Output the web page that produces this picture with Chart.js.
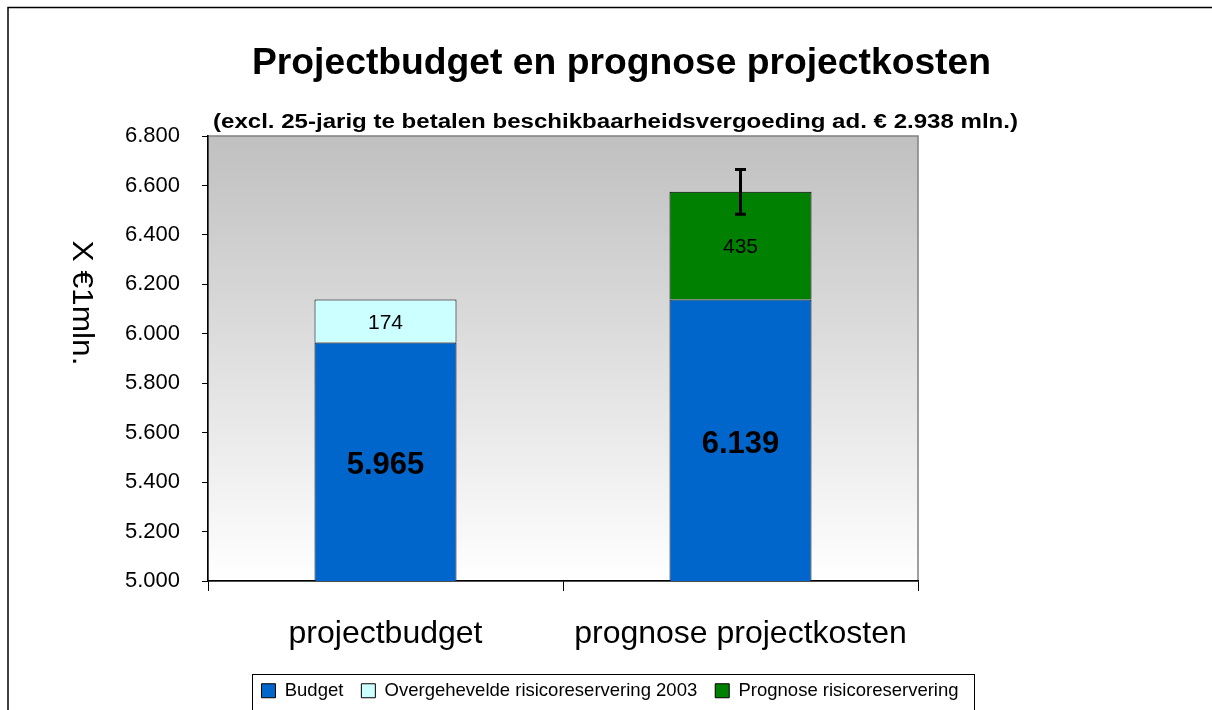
<!DOCTYPE html>
<html><head><meta charset="utf-8">
<script src="https://cdn.jsdelivr.net/npm/chart.js@4"></script>
<style>html,body{margin:0;padding:0;background:#fff;}#wrap{width:1212px;height:710px;}</style>
</head><body><div id="wrap"><canvas id="c" width="1212" height="710"></canvas></div>
<script>
const categories = ['projectbudget', 'prognose projectkosten'];
const budget = [5965, 6139];
const overgeheveld = [174, null];
const prognose = [null, 435];
const errorMargin = [null, 91];
const yMin = 5000, yMax = 6800, yStep = 200;
const titleText = 'Projectbudget en prognose projectkosten';
const subtitleText = '(excl. 25-jarig te betalen beschikbaarheidsvergoeding ad. € 2.938 mln.)';
const yTitle = 'X €1mln.';

const FONT = "'Liberation Sans', Arial, sans-serif";
const fmt = v => (v / 1000).toFixed(3);

function fitText(ctx, text, cx, cy, width) {
  const w = ctx.measureText(text).width;
  ctx.save();
  ctx.translate(cx, cy);
  ctx.scale(width / w, 1);
  ctx.fillText(text, 0, 0);
  ctx.restore();
}

const decor = {
  id: 'decor',
  beforeDraw(chart) {
    const ctx = chart.ctx, a = chart.chartArea;
    ctx.save();
    ctx.fillStyle = '#fff';
    ctx.fillRect(0, 0, chart.width, chart.height);
    // outer frame
    ctx.strokeStyle = '#000'; ctx.lineWidth = 1.5;
    ctx.strokeRect(8, 7.5, chart.width + 20, chart.height + 20);
    // plot gradient
    const g = ctx.createLinearGradient(0, a.top, 0, a.bottom);
    g.addColorStop(0, '#c0c0c0'); g.addColorStop(1, '#ffffff');
    ctx.fillStyle = g;
    ctx.fillRect(a.left, a.top, a.right - a.left, a.bottom - a.top);
    ctx.strokeStyle = '#808080'; ctx.lineWidth = 1.5;
    ctx.strokeRect(a.left, a.top, a.right - a.left, a.bottom - a.top);
    // titles
    ctx.fillStyle = '#000'; ctx.textAlign = 'center'; ctx.textBaseline = 'middle';
    ctx.font = 'bold 36px ' + FONT;
    fitText(ctx, titleText, 621.5, 64, 739);
    ctx.font = 'bold 20px ' + FONT;
    fitText(ctx, subtitleText, 615.5, 122, 805);
    // y title rotated clockwise
    ctx.translate(81, 303);
    ctx.rotate(Math.PI / 2);
    ctx.font = '30px ' + FONT;
    fitText(ctx, yTitle, 0, 0, 125);
    ctx.restore();
  },
  afterDatasetsDraw(chart) {
    const ctx = chart.ctx, y = chart.scales.y;
    ctx.save();
    ctx.fillStyle = '#000'; ctx.textAlign = 'center'; ctx.textBaseline = 'middle';
    // value labels
    chart.data.datasets.forEach((ds, di) => {
      const meta = chart.getDatasetMeta(di);
      meta.data.forEach((bar, i) => {
        const v = ds.data[i];
        if (v == null) return;
        const top = Math.max(bar.y, chart.chartArea.top);
        const bottom = Math.min(bar.base, chart.chartArea.bottom);
        const cy = (top + bottom) / 2;
        if (di === 0) { ctx.font = 'bold 31px ' + FONT; ctx.fillText(fmt(v), bar.x, cy + 4); }
        else { ctx.font = '21px ' + FONT; ctx.fillText(String(v), bar.x, cy + 2); }
      });
    });
    // error bars
    errorMargin.forEach((e, i) => {
      if (e == null) return;
      const total = (budget[i] || 0) + (overgeheveld[i] || 0) + (prognose[i] || 0);
      const x = chart.getDatasetMeta(0).data[i].x;
      const yt = y.getPixelForValue(total + e), yb = y.getPixelForValue(total - e);
      ctx.strokeStyle = '#000'; ctx.lineWidth = 3;
      ctx.beginPath();
      ctx.moveTo(x, yt); ctx.lineTo(x, yb);
      ctx.moveTo(x - 5.5, yt); ctx.lineTo(x + 5.5, yt);
      ctx.moveTo(x - 5.5, yb); ctx.lineTo(x + 5.5, yb);
      ctx.stroke();
    });
    ctx.restore();
  },
  afterDraw(chart) {
    const ctx = chart.ctx, lg = chart.legend;
    if (!lg || !lg.legendHitBoxes || !lg.legendHitBoxes.length) return;
    const hb = lg.legendHitBoxes;
    const l = hb[0].left - 9, r = hb[hb.length - 1].left + hb[hb.length - 1].width + 16;
    ctx.save();
    ctx.strokeStyle = '#000'; ctx.lineWidth = 1;
    ctx.strokeRect(Math.round(l) + 0.5, 674.5, Math.round(r - l), 60);
    ctx.restore();
  }
};

new Chart(document.getElementById('c'), {
  type: 'bar',
  data: {
    labels: categories,
    datasets: [
      { label: 'Budget', data: budget, backgroundColor: '#0066CC', borderColor: '#000', borderWidth: 1 },
      { label: 'Overgehevelde risicoreservering 2003', data: overgeheveld, backgroundColor: '#CCFFFF', borderColor: '#000', borderWidth: 1 },
      { label: 'Prognose risicoreservering', data: prognose, backgroundColor: '#008000', borderColor: '#000', borderWidth: 1 }
    ]
  },
  options: {
    responsive: false,
    animation: false,
    devicePixelRatio: 1,
    barPercentage: 1,
    categoryPercentage: 0.4,
    layout: { padding: { top: 136, left: 8, right: 0, bottom: 0 } },
    plugins: {
      title: { display: false },
      tooltip: { enabled: false },
      legend: {
        position: 'bottom',
        labels: {
          color: '#000', boxWidth: 14, boxHeight: 14, padding: 18,
          font: { family: FONT, size: 18.5 }
        }
      }
    },
    scales: {
      x: {
        stacked: true,
        afterFit: s => { s.height = 82.5; },
        grid: { offset: true, drawOnChartArea: false, drawTicks: true, tickLength: 10, color: '#000' },
        border: { display: true, color: '#000', width: 1.5 },
        ticks: { color: '#000', padding: 24, font: { family: FONT, size: 32 } }
      },
      y: {
        stacked: true,
        min: yMin, max: yMax,
        afterFit: s => { s.width = 200; },
        grid: { drawOnChartArea: false, drawTicks: true, tickLength: 6, color: '#000' },
        border: { display: true, color: '#000', width: 1.5 },
        ticks: { stepSize: yStep, color: '#000', padding: 22, font: { family: FONT, size: 22 }, callback: v => fmt(v) }
      },
      spacer: {
        position: 'right',
        display: true,
        afterFit: s => { s.width = 294; },
        ticks: { display: false },
        grid: { display: false, drawTicks: false },
        border: { display: false }
      }
    }
  },
  plugins: [decor]
});
</script></body></html>
